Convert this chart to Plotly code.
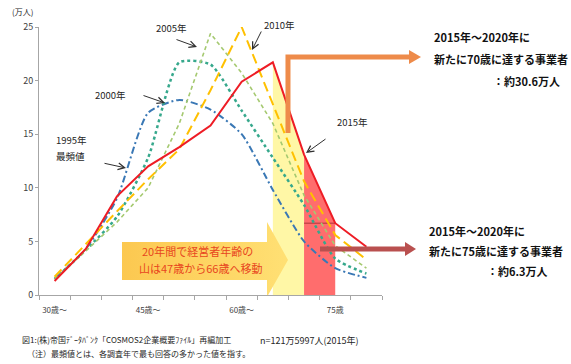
import plotly.graph_objects as go

# Age bins (5-year classes) and the labels shown under the axis
age_bins = ["30歳～", "35歳～", "40歳～", "45歳～", "50歳～", "55歳～",
            "60歳～", "65歳～", "70歳～", "75歳～", "80歳～"]
tick_labels = ["30歳～", "", "", "45歳～", "", "", "60歳～", "", "", "75歳", ""]
y_ticks = [0, 5, 10, 15, 20, 25]

# Number of business owners per age class (unit: 10,000 people)
owners_1995 = [1.5, 4.3, 9.0, 17.0, 18.2, 17.3, 15.0, 9.8, 5.0, 2.5, 1.6]
owners_2000 = [1.5, 4.2, 7.3, 12.8, 21.7, 21.5, 17.2, 12.8, 8.4, 3.4, 2.0]
owners_2005 = [1.5, 4.1, 6.8, 10.0, 16.0, 24.4, 20.7, 16.0, 9.3, 4.6, 2.5]
owners_2010 = [1.7, 4.8, 7.8, 10.8, 13.6, 19.1, 25.0, 17.8, 10.6, 5.6, 3.3]
owners_2015 = [1.3, 4.3, 9.2, 12.0, 13.8, 15.8, 19.9, 21.7, 13.1, 6.7, 4.5]

FONT = "Noto Sans CJK JP"

# Plot-area edges in pixels (used to place decorations)
W, H = 571, 364
PL, PR, PT, PB = 39, 382, 27, 295


def px(x, y):
    """Pixel position -> paper coordinates."""
    return (x - PL) / (PR - PL), (PB - y) / (PB - PT)


fig = go.Figure()

# Shaded areas under the 2015 curve: 65-69 -> 70-74 (yellow), 70-74 -> 75-79 (red)
fig.add_trace(go.Scatter(
    x=[age_bins[7], age_bins[7], age_bins[8], age_bins[8]],
    y=[0, owners_2015[7], owners_2015[8], 0],
    fill="toself", mode="lines", line=dict(width=0),
    fillcolor="rgba(255,246,150,0.85)", hoverinfo="skip", showlegend=False))
fig.add_trace(go.Scatter(
    x=[age_bins[8], age_bins[8], age_bins[9], age_bins[9]],
    y=[0, owners_2015[8], owners_2015[9], 0],
    fill="toself", mode="lines", line=dict(width=0),
    fillcolor="#FF6D6D", hoverinfo="skip", showlegend=False))
fig.add_trace(go.Scatter(
    x=[age_bins[8], age_bins[9]], y=[owners_2015[9], owners_2015[9]],
    mode="lines", line=dict(color="#B0363A", width=1),
    hoverinfo="skip", showlegend=False))

series = [
    ("1995年", owners_1995, "#3A78B5", "7px,3px,2px,3px", 2.0, "spline"),
    ("2000年", owners_2000, "#36A88C", "dot", 2.5, "spline"),
    ("2005年", owners_2005, "#A5C970", "4px,3px", 1.6, "linear"),
    ("2010年", owners_2010, "#FFC000", "10px,5px", 2.0, "linear"),
    ("2015年", owners_2015, "#EE1C25", "solid", 2.0, "linear"),
]
for name, vals, color, dash, width, shape in series:
    fig.add_trace(go.Scatter(
        x=age_bins, y=vals, name=name, mode="lines",
        line=dict(color=color, dash=dash, width=width, shape=shape, smoothing=0.6),
        showlegend=False))

# Block arrow with a horizontal gradient (drawn on a pixel-scaled overlay axis)
arrow_x = [122, 267, 267, 288, 267, 267, 122, 122]
arrow_y = [242, 242, 222, 260, 297, 280, 280, 242]
fig.add_trace(go.Scatter(
    x=arrow_x, y=arrow_y, xaxis="x2", yaxis="y2",
    fill="toself", mode="lines", line=dict(width=0),
    fillgradient=dict(type="horizontal",
                      colorscale=[[0, "#FCC850"], [1, "#FFE074"]]),
    hoverinfo="skip", showlegend=False))

fig.update_layout(
    width=W, height=H,
    margin=dict(l=PL, r=W - PR, t=PT, b=H - PB, pad=0),
    paper_bgcolor="white", plot_bgcolor="white",
    font=dict(family=FONT, color="#404040"),
    xaxis=dict(type="category", categoryorder="array", categoryarray=age_bins,
               tickmode="array", tickvals=age_bins, ticktext=tick_labels,
               tickson="boundaries", ticks="outside", ticklen=4, tickangle=0,
               ticklabelstandoff=7,
               tickcolor="#A6A6A6", showline=True, linecolor="#A6A6A6",
               linewidth=1, showgrid=False, zeroline=False,
               tickfont=dict(size=8, color="#404040"), range=[-0.5, 10.5]),
    yaxis=dict(range=[0, 25], tickmode="array", tickvals=y_ticks,
               ticks="outside", ticklen=3, tickcolor="#A6A6A6",
               showline=True, linecolor="#A6A6A6", linewidth=1,
               showgrid=False, zeroline=False,
               tickfont=dict(size=9, color="#404040")),
    xaxis2=dict(overlaying="x", range=[PL, PR], visible=False),
    yaxis2=dict(overlaying="y", range=[PB, PT], visible=False),
)


def text(x, y, s, size, color="#262626", anchor="center", bold=False):
    xp, yp = px(x, y)
    fig.add_annotation(x=xp, y=yp, xref="paper", yref="paper", text=s,
                       showarrow=False, xanchor=anchor, yanchor="middle",
                       font=dict(family=FONT, size=size, color=color,
                                 weight="bold" if bold else "normal"))


def pointer(x0, y0, x1, y1):
    """Thin arrow from (x0, y0) to (x1, y1), in pixels."""
    xp, yp = px(x1, y1)
    fig.add_annotation(x=xp, y=yp, xref="paper", yref="paper", text="",
                       showarrow=True, ax=x0 - x1, ay=y0 - y1,
                       axref="pixel", ayref="pixel", arrowhead=5,
                       arrowsize=1.3, arrowwidth=1, arrowcolor="#303030",
                       standoff=0)


def path(points):
    coords = [px(x, y) for x, y in points]
    return "M " + " L ".join(f"{a:.4f},{b:.4f}" for a, b in coords)


# Unit label
text(22, 12, "(万人)", 8)

# Year callouts
text(71, 140, "1995年", 9.5)
text(70, 156, "最頻値", 9.5)
pointer(103, 163, 126, 168)
text(110, 95, "2000年", 9.5)
pointer(142, 95, 165, 103)
text(171, 28, "2005年", 9.5)
pointer(175, 39, 197, 47)
text(279, 25, "2010年", 9.5)
pointer(262, 30, 252, 50)
text(352, 122, "2015年", 9.5)
pointer(327, 138, 306, 153)

# Orange L-shaped arrow to the upper note
fig.add_shape(type="path", xref="paper", yref="paper",
              path=path([(288, 133), (288, 57), (411, 57)]),
              line=dict(color="#EE8B4A", width=5), layer="above")
fig.add_shape(type="path", xref="paper", yref="paper",
              path=path([(409, 50), (421, 57), (409, 64)]) + " Z",
              fillcolor="#EE8B4A", line=dict(width=0), layer="above")

# Dark red arrow to the lower note
fig.add_shape(type="line", xref="paper", yref="paper",
              x0=px(320, 249)[0], y0=px(320, 249)[1],
              x1=px(407, 249)[0], y1=px(407, 249)[1],
              line=dict(color="#B9504F", width=5), layer="above")
fig.add_shape(type="path", xref="paper", yref="paper",
              path=path([(405, 242), (416, 249), (405, 256)]) + " Z",
              fillcolor="#B9504F", line=dict(width=0), layer="above")

# Text inside the block arrow
text(197, 251, "20年間で経営者年齢の", 11, color="#E8461E")
text(200, 268, "山は47歳から66歳へ移動", 11, color="#E8461E")

# Notes on the right
text(432, 37, "2015年～2020年に", 11, color="#111111", anchor="left", bold=True)
text(432, 59, "新たに70歳に達する事業者", 11, color="#111111", anchor="left", bold=True)
text(562, 81, "：約30.6万人", 11, color="#111111", anchor="right", bold=True)
text(427, 231, "2015年～2020年に", 11, color="#111111", anchor="left", bold=True)
text(427, 251, "新たに75歳に達する事業者", 11, color="#111111", anchor="left", bold=True)
text(550, 271, "：約6.3万人", 11, color="#111111", anchor="right", bold=True)

# Source and notes
text(20, 339, "図1:(株)帝国ﾃﾞｰﾀﾊﾞﾝｸ「COSMOS2企業概要ﾌｧｲﾙ」再編加工", 8, anchor="left")
text(25, 353, "（注）最頻値とは、各調査年で最も回答の多かった値を指す。", 8, anchor="left")
text(258, 340, "n=121万5997人(2015年)", 9, anchor="left")

fig.write_html("out.html")
